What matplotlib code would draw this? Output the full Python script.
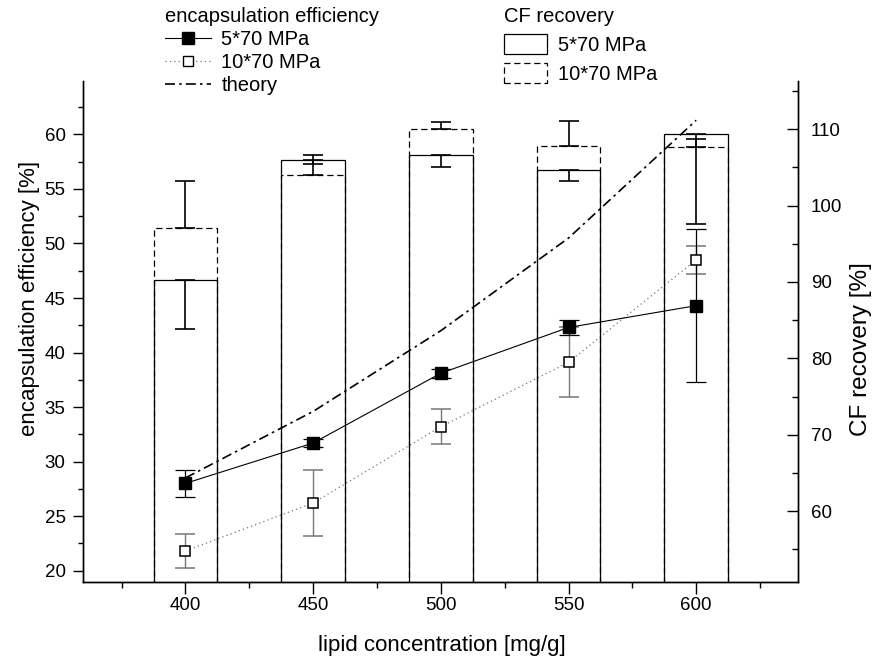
import numpy as np
import matplotlib
matplotlib.use('Agg')
import matplotlib.pyplot as plt
from matplotlib.lines import Line2D
from matplotlib.patches import Patch
from matplotlib.ticker import MultipleLocator

plt.rcParams.update({
    'font.family': ['Liberation Sans', 'DejaVu Sans'],
    'font.size': 13.5,
    'axes.linewidth': 1.0,
})

# lipid concentration [mg/g]
lipid = np.array([400, 450, 500, 550, 600])

# encapsulation efficiency [%] (left axis)
ee_5x70 = [28.0, 31.7, 38.1, 42.3, 44.3]
ee_5x70_err = [1.25, 0.35, 0.4, 0.7, 7.0]
ee_10x70 = [21.8, 26.2, 33.2, 39.1, 48.5]
ee_10x70_err = [1.55, 3.0, 1.6, 3.2, 1.3]
ee_theory = [28.5, 34.6, 42.0, 50.5, 61.3]

# CF recovery [%] (right axis), 5*70 error shown downwards, 10*70 upwards
cf_5x70 = [90.2, 106.0, 106.6, 104.7, 109.4]
cf_5x70_err = [6.4, 0.6, 1.6, 1.5, 11.8]
cf_10x70 = [97.0, 104.0, 110.0, 107.8, 107.7]
cf_10x70_err = [6.2, 2.6, 0.9, 3.3, 1.0]

bar_width = 25
dash = (0, (5, 3))
zeros = np.zeros(len(lipid))

fig = plt.figure(figsize=(8.77, 6.62), dpi=100)
ax = fig.add_axes([0.095, 0.1216, 0.8153, 0.756])
ax2 = ax.twinx()

# CF recovery bars
ax2.bar(lipid, cf_5x70, width=bar_width, fill=False, edgecolor='black', linewidth=0.9)
ax2.bar(lipid, cf_10x70, width=bar_width, fill=False, edgecolor='black', linewidth=0.9,
        linestyle=dash)
ax2.errorbar(lipid, cf_5x70, yerr=[cf_5x70_err, zeros], fmt='none', ecolor='black',
             elinewidth=1.2, capsize=7, capthick=1.2)
ax2.errorbar(lipid, cf_10x70, yerr=[zeros, cf_10x70_err], fmt='none', ecolor='black',
             elinewidth=1.2, capsize=7, capthick=1.2)

# encapsulation efficiency
ax.plot(lipid, ee_theory, color='black', linewidth=1.2, linestyle=(0, (6, 2.5, 1.5, 2.5)))
ax.errorbar(lipid, ee_10x70, yerr=ee_10x70_err, color='#777777', linewidth=0.9,
            linestyle=(0, (1, 2.5)), elinewidth=1.0, capsize=7, capthick=1.0,
            marker='s', markersize=7.5, markerfacecolor='white',
            markeredgecolor='black', markeredgewidth=1.1)
ax.errorbar(lipid, ee_5x70, yerr=ee_5x70_err, color='black', linewidth=0.8,
            elinewidth=0.9, capsize=7, capthick=0.9,
            marker='s', markersize=8, markerfacecolor='black', markeredgecolor='black')

ax.set_xlim(360, 640)
ax.set_ylim(19, 64.9)
ax2.set_ylim(50.8, 116.3)

ax.xaxis.set_major_locator(MultipleLocator(50))
ax.xaxis.set_minor_locator(MultipleLocator(25))
ax.yaxis.set_major_locator(MultipleLocator(5))
ax.yaxis.set_minor_locator(MultipleLocator(2.5))
ax2.yaxis.set_major_locator(MultipleLocator(10))
ax2.yaxis.set_minor_locator(MultipleLocator(5))

ax.spines['top'].set_visible(False)
ax2.spines['top'].set_visible(False)
ax.tick_params(axis='x', which='major', direction='out', length=8.4, width=1.0, pad=2.7)
ax.tick_params(axis='x', which='minor', direction='out', length=4.5, width=1.0)
ax.tick_params(axis='y', which='major', direction='out', length=7.2, width=1.0, pad=5.5)
ax.tick_params(axis='y', which='minor', direction='out', length=3.6, width=1.0)
ax2.tick_params(axis='y', which='major', direction='in', length=7.7, width=1.0, pad=9)
ax2.tick_params(axis='y', which='minor', direction='in', length=4.5, width=1.0)

ax.set_xlabel('lipid concentration [mg/g]', fontsize=16)
ax.set_ylabel('encapsulation efficiency [%]', fontsize=16)
ax2.set_ylabel('CF recovery [%]', fontsize=17.5)
ax.xaxis.set_label_coords(0.501, -0.107)
ax.yaxis.set_label_coords(-0.0606, 0.566)
ax2.yaxis.set_label_coords(1.0723, 0.465)

# legends above the plot
ee_handles = [
    Line2D([], [], color='black', linewidth=0.8, marker='s', markersize=8,
           markerfacecolor='black'),
    Line2D([], [], color='#777777', linewidth=0.9, linestyle=(0, (1, 2.5)), marker='s',
           markersize=7.5, markerfacecolor='white', markeredgecolor='black'),
    Line2D([], [], color='black', linewidth=1.2, linestyle=(0, (6, 2.5, 1.5, 2.5))),
]
ax.legend(ee_handles, ['5*70 MPa', '10*70 MPa', 'theory'],
          title='encapsulation efficiency', title_fontsize=14.5, fontsize=14.5,
          alignment='left', frameon=False, loc='upper left',
          bbox_to_anchor=(0.188, 0.99), bbox_transform=fig.transFigure,
          borderpad=0, borderaxespad=0, handlelength=2.3, handletextpad=0.5,
          labelspacing=0.2)
cf_handles = [
    Patch(fill=False, edgecolor='black', linewidth=0.9),
    Patch(fill=False, edgecolor='black', linewidth=0.9, linestyle=dash),
]
ax2.legend(cf_handles, ['5*70 MPa', '10*70 MPa'],
           title='CF recovery', title_fontsize=14.5, fontsize=14.5,
           alignment='left', frameon=False, loc='upper left',
           bbox_to_anchor=(0.575, 0.99), bbox_transform=fig.transFigure,
           borderpad=0, borderaxespad=0, handlelength=2.1, handleheight=1.2,
           handletextpad=0.55, labelspacing=0.4)

fig.savefig('out.png', dpi=100)
